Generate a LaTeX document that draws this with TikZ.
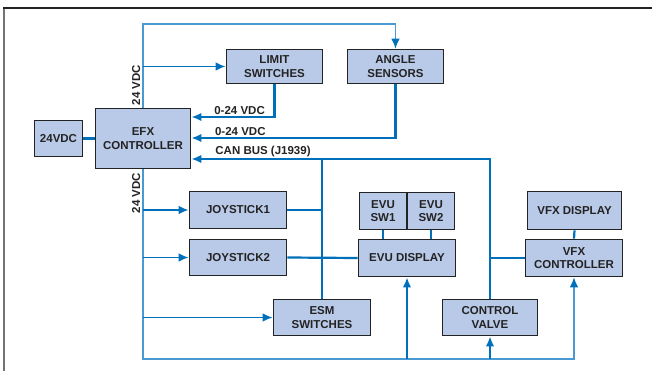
\documentclass[tikz,border=0pt]{standalone}
\usepackage{fontspec}
\setmainfont{Liberation Sans}
\usetikzlibrary{arrows.meta,calc}
\definecolor{boxFill}{RGB}{185,201,232}
\definecolor{boxLine}{RGB}{35,35,35}
\definecolor{busBlue}{RGB}{0,112,186}
\definecolor{powerBlue}{RGB}{74,153,211}
\definecolor{frameGray}{RGB}{115,115,115}
\tikzset{
  unitbox/.style={
    rectangle, draw=boxLine, line width=1.7pt, fill=boxFill, align=center,
    font=\fontsize{11.5}{13.5}\selectfont\bfseries, text=boxLine, inner sep=1pt
  },
  busline/.style={draw=busBlue, line width=2.2pt},
  busArrow/.style={busline, -{Latex[length=10pt,width=8.5pt]}},
  feedArrow/.style={draw=busBlue, line width=1.6pt, -{Latex[length=10pt,width=8.5pt]}},
  powerline/.style={draw=powerBlue, line width=1.2pt},
  powerArrow/.style={powerline, -{Latex[length=10pt,width=8.5pt,color=busBlue]}}
}

\begin{document}
\begin{tikzpicture}[
    x=1pt, y=-1pt,
    lbl/.style={font=\fontsize{11.5}{13.5}\selectfont\bfseries, text=boxLine, inner sep=1.5pt}
  ]
    \useasboundingbox (0,0) rectangle (652,371);
    \draw[frameGray, line width=1.2pt] (4,371) -- (4,8);
    \draw[boxLine, line width=1.2pt] (3.4,8) -- (652,8);

    % units
    \node[unitbox, minimum width=48pt, minimum height=36pt] (pwr) at (58.5,138.5) {24VDC};
    \node[unitbox, minimum width=95pt, minimum height=60pt] (efx) at (143,138.5) {EFX\\CONTROLLER};
    \node[unitbox, minimum width=96pt, minimum height=34pt] (lim) at (274.5,66.5) {LIMIT\\SWITCHES};
    \node[unitbox, minimum width=96pt, minimum height=34pt] (ang) at (395.5,66.5) {ANGLE\\SENSORS};
    \node[unitbox, minimum width=97pt, minimum height=37pt] (joy1) at (238,210) {JOYSTICK1};
    \node[unitbox, minimum width=97pt, minimum height=36pt] (joy2) at (238,257.5) {JOYSTICK2};
    \node[unitbox, minimum width=97pt, minimum height=36pt] (esm) at (322,317.5) {ESM\\SWITCHES};
    \node[unitbox, minimum width=47pt, minimum height=37pt] (sw1) at (383,211) {EVU\\SW1};
    \node[unitbox, minimum width=47pt, minimum height=37pt] (sw2) at (431,211) {EVU\\SW2};
    \node[unitbox, minimum width=97pt, minimum height=37pt] (evu) at (407,258) {EVU DISPLAY};
    \node[unitbox, minimum width=95pt, minimum height=36pt] (valve) at (490,317.5) {CONTROL\\VALVE};
    \node[unitbox, minimum width=94pt, minimum height=38pt] (vfxd) at (574.5,210.5) {VFX DISPLAY};
    \node[unitbox, minimum width=97pt, minimum height=37pt] (vfxc) at (574,258) {VFX\\CONTROLLER};

    % rows and corners
    \coordinate (topL) at (143,24);
    \coordinate (botL) at (143,359);
    \coordinate (limRow) at (0,117);
    \coordinate (angRow) at (0,138);
    \coordinate (canRow) at (0,159);

    % 24 VDC supply
    \draw[powerArrow] (efx.north) -- (topL) -| (ang.north);
    \draw[powerArrow] (efx.south) -- (botL) -| (vfxc.south);
    \draw[feedArrow] (efx.north |- lim.west) -- (lim.west);
    \draw[feedArrow] (efx.south |- joy1.west) -- (joy1.west);
    \draw[feedArrow] (efx.south |- joy2.west) -- (joy2.west);
    \draw[feedArrow] (efx.south |- esm.west) -- (esm.west);
    \draw[busArrow] (evu.south |- botL) -- (evu.south);
    \draw[busArrow] (valve.south |- botL) -- (valve.south);
    \node[lbl, rotate=90, anchor=south] (vTop) at (142,85) {24 VDC};
    \node[lbl, rotate=90, anchor=south] (vBot) at (142,193) {24 VDC};

    % sensor inputs and CAN bus
    \draw[busArrow] (lim.south) |- (efx.east |- limRow)
          node[lbl, pos=0.71, above] {0-24 VDC};
    \draw[busArrow] (ang.south) |- (efx.east |- angRow)
          node[lbl, pos=0.88, above] {0-24 VDC};
    \draw[busArrow] (valve.north) |- (efx.east |- canRow)
          node[lbl, pos=0.88, above] {CAN BUS (J1939)};
    \draw[busline] (esm.north) -- (esm.north |- canRow);
    \draw[busline] (joy1.east) -- (esm.north |- joy1.east);
    \draw[busline] (joy2.east) -- (evu.west);
    \draw[busline] (valve.north |- vfxc.west) -- (vfxc.west);
    \draw[busline] (sw1.south) -- (sw1.south |- evu.north);
    \draw[busline] (sw2.south) -- (sw2.south |- evu.north);
    \draw[busline] (vfxd.south) -- (vfxc.north);
    \draw[busline] (pwr.east) -- (efx.west);
  \end{tikzpicture}
\end{document}
